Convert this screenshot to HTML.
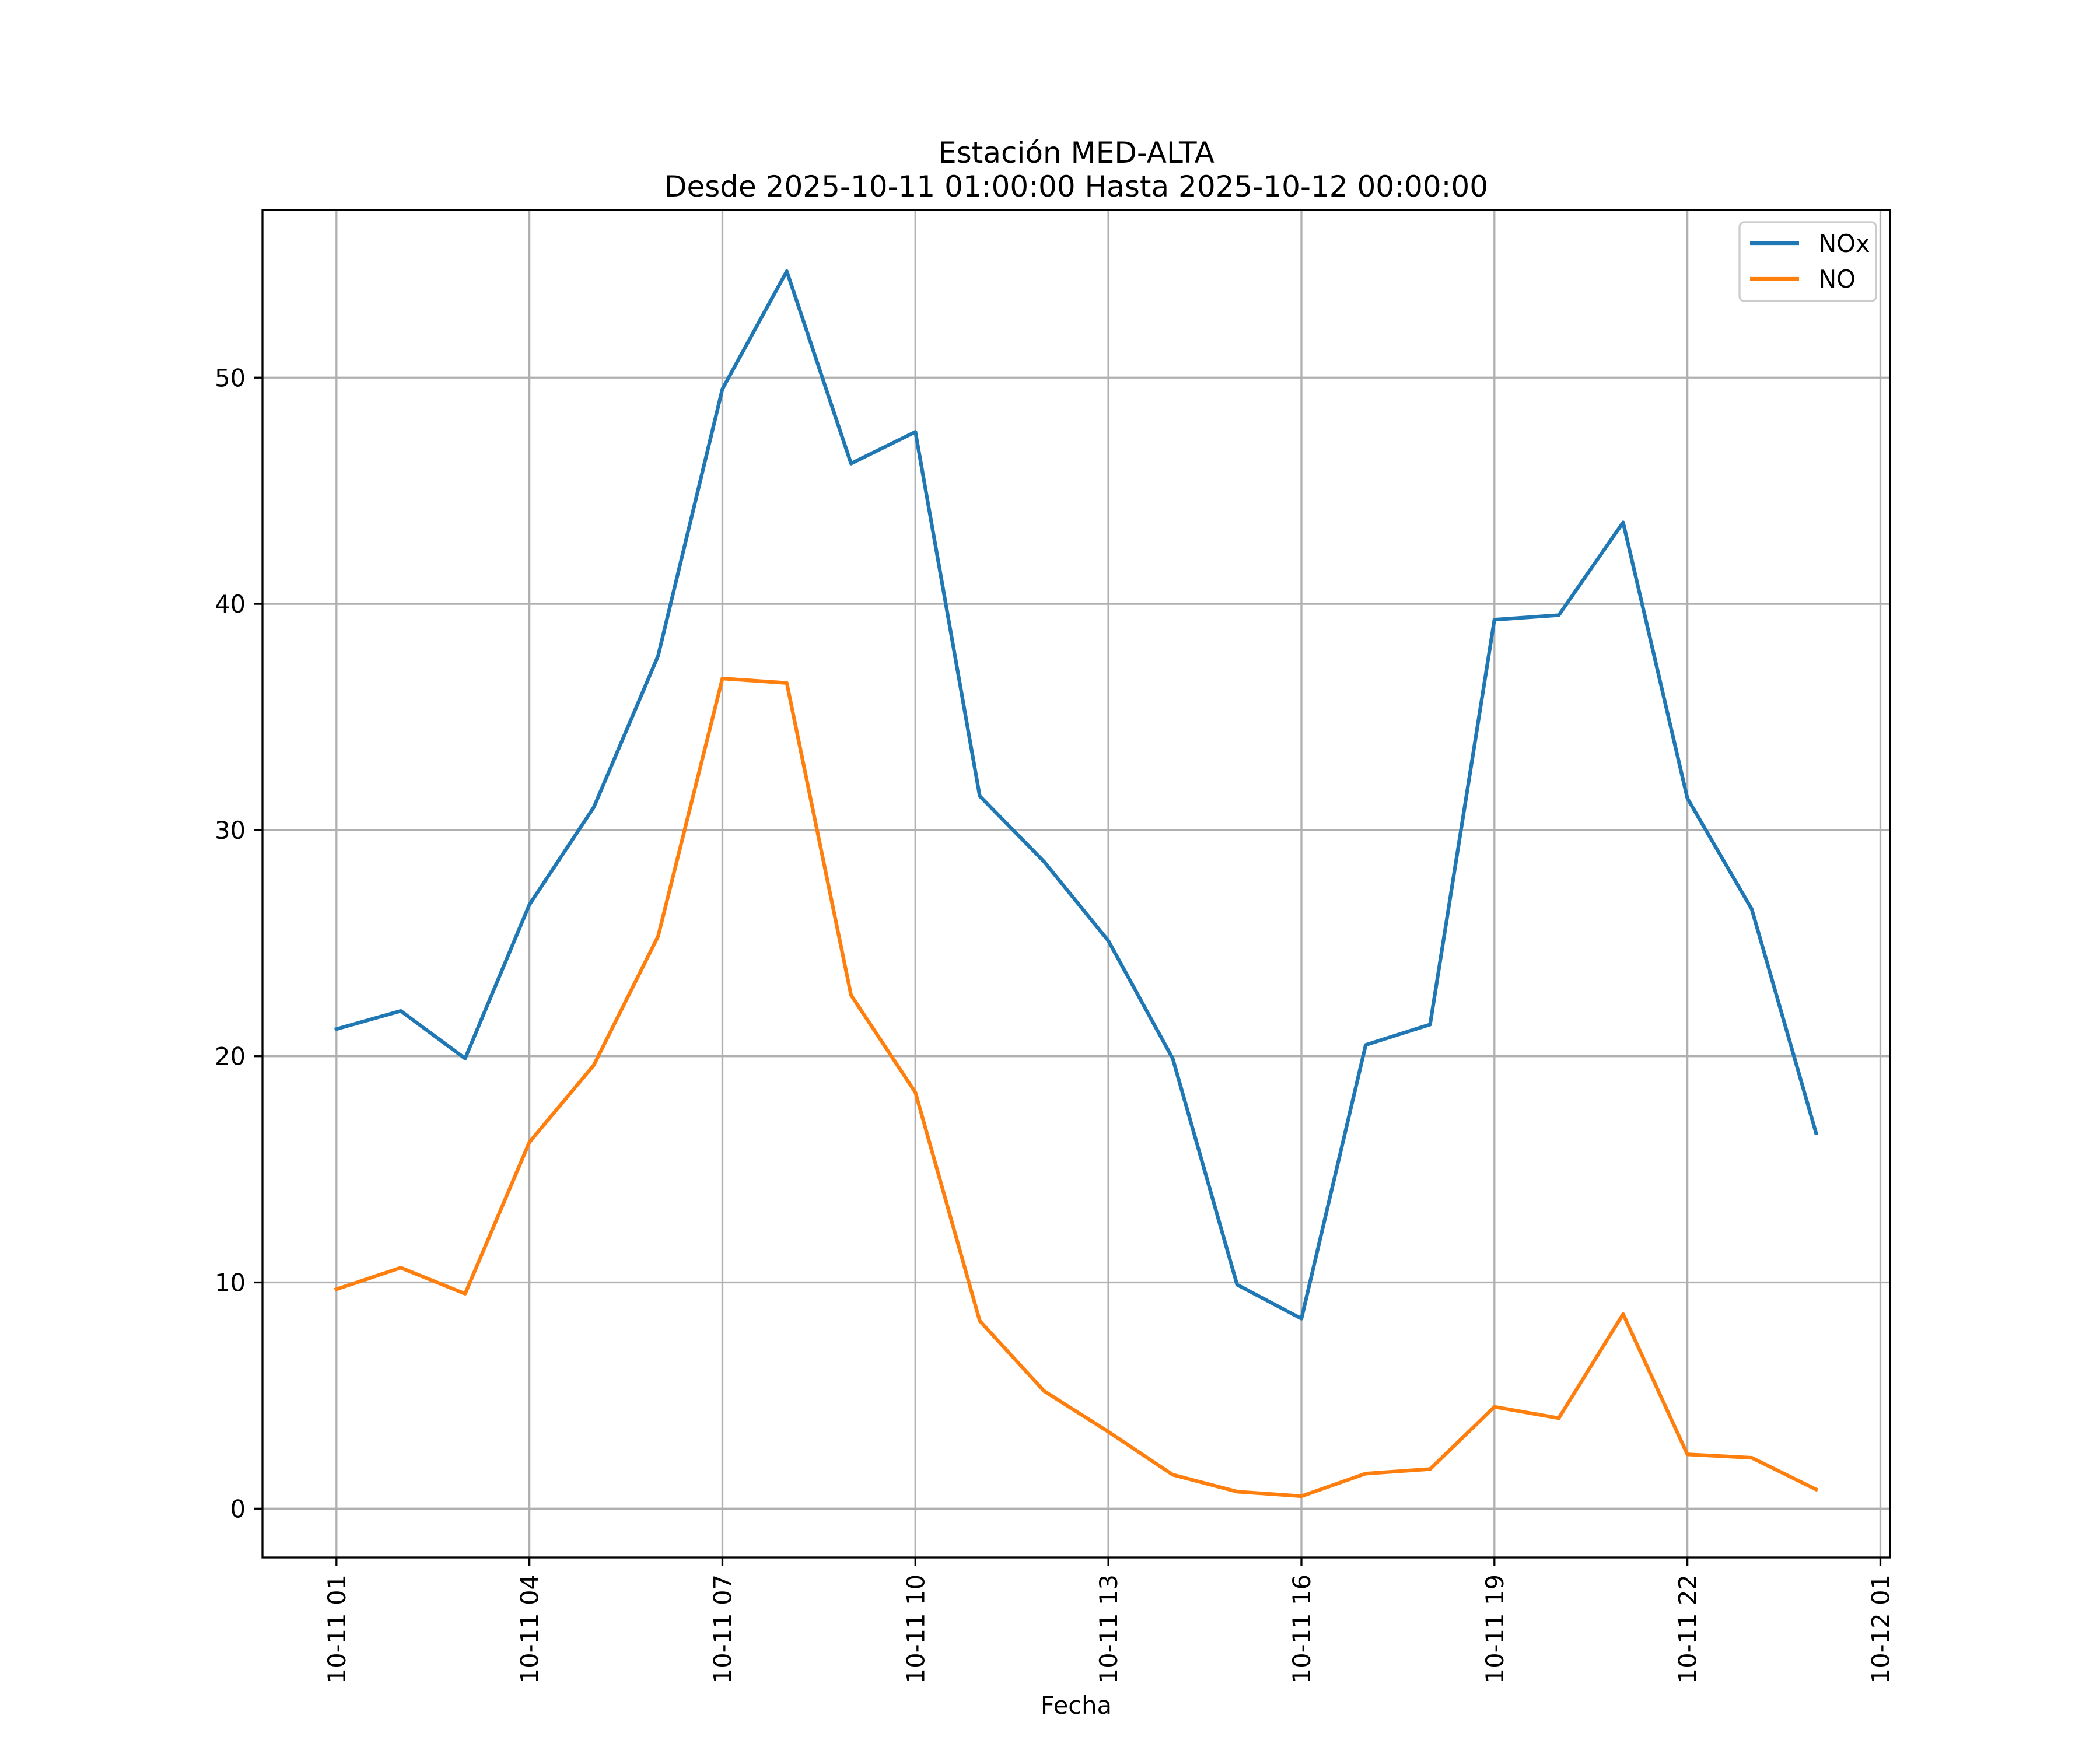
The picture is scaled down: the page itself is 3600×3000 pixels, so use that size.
<!DOCTYPE html>
<html><head><meta charset="utf-8"><style>
html,body{margin:0;padding:0;background:#fff;}
svg{display:block;font-family:"DejaVu Sans","Liberation Sans",sans-serif;}
</style></head><body>
<svg id="chart" width="3600" height="3000" viewBox="0 0 3600 3000" xmlns="http://www.w3.org/2000/svg">
<rect width="3600" height="3000" fill="#fff"/>
<text x="1845" y="279" font-size="50" text-anchor="middle">Estación MED-ALTA</text>
<text x="1845" y="337" font-size="50" text-anchor="middle">Desde 2025-10-11 01:00:00 Hasta 2025-10-12 00:00:00</text>
<g id="grid"></g>
<g id="series"></g>
<rect x="450" y="360" width="2790" height="2310" fill="none" stroke="#000" stroke-width="3.3"/>
<g id="axes"></g>
<text x="1845" y="2938" font-size="41.7" text-anchor="middle">Fecha</text>
<g>
<rect x="2982" y="381" width="234" height="135" rx="8" fill="#fff" fill-opacity="0.8" stroke="#ccc" stroke-width="3.3"/>
<line x1="3000" y1="417" x2="3084" y2="417" stroke="#1f77b4" stroke-width="6.25"/>
<text x="3117" y="432" font-size="41.7">NOx</text>
<line x1="3000" y1="478" x2="3084" y2="478" stroke="#ff7f0e" stroke-width="6.25"/>
<text x="3117" y="493" font-size="41.7">NO</text>
</g>
</svg>
<script>
const hours = [1,2,3,4,5,6,7,8,9,10,11,12,13,14,15,16,17,18,19,20,21,22,23,24];
const noxValues = [21.2,22.0,19.9,26.7,31.0,37.7,49.5,54.7,46.2,47.6,31.5,28.6,25.1,19.9,9.9,8.4,20.5,21.4,39.3,39.5,43.6,31.4,26.5,16.6];
const noValues = [9.7,10.65,9.5,16.2,19.6,25.3,36.7,36.5,22.7,18.4,8.3,5.2,3.4,1.5,0.75,0.55,1.55,1.75,4.5,4.0,8.6,2.4,2.25,0.85];
const yTicks = [0,10,20,30,40,50];
const xTickHours = [1,4,7,10,13,16,19,22,25];
const xTickLabels = ["10-11 01","10-11 04","10-11 07","10-11 10","10-11 13","10-11 16","10-11 19","10-11 22","10-12 01"];

const NS = "http://www.w3.org/2000/svg";
const L=450,R=3240,T=360,B=2670;
const all = noxValues.concat(noValues);
const yMinD=Math.min(...all), yMaxD=Math.max(...all), yPad=(yMaxD-yMinD)*0.05;
const y0=yMinD-yPad, y1=yMaxD+yPad;
const xMinD=Math.min(...hours), xMaxD=Math.max(...hours), xPad=(xMaxD-xMinD)*0.05;
const x0=xMinD-xPad, x1=xMaxD+xPad;
const xs = h => L+(h-x0)/(x1-x0)*(R-L);
const ys = v => B-(v-y0)/(y1-y0)*(B-T);
function mk(tag, attrs, parent){const e=document.createElementNS(NS,tag);for(const k in attrs)e.setAttribute(k,attrs[k]);parent.appendChild(e);return e;}
const grid=document.getElementById('grid'), axes=document.getElementById('axes'), series=document.getElementById('series');

yTicks.forEach(v=>{
  const y=ys(v);
  const g=mk('line',{x1:L,x2:R,y1:y,y2:y,stroke:'#b0b0b0','stroke-width':3.3},grid);
  
  
  const t=mk('line',{x1:L-14.6,x2:L,y1:y,y2:y,stroke:'#000','stroke-width':3.3},axes);
  
  
  const tx=mk('text',{x:L-29,y:y+15,'font-size':41.7,'text-anchor':'end'},axes);
  tx.textContent=String(v);
  
  
});
xTickHours.forEach((h,i)=>{
  const x=xs(h);
  const g=mk('line',{x1:x,x2:x,y1:T,y2:B,stroke:'#b0b0b0','stroke-width':3.3},grid);
  
  
  const t=mk('line',{x1:x,x2:x,y1:B,y2:B+14.6,stroke:'#000','stroke-width':3.3},axes);
  
  
  const tx=mk('text',{x:0,y:0,'font-size':41.7,'text-anchor':'end',transform:`translate(${x+15},${B+29}) rotate(-90)`},axes);
  tx.textContent=xTickLabels[i];
  
  
});
function drawLine(vals,color,name){
  const pts=vals.map((v,i)=>xs(hours[i]).toFixed(1)+','+ys(v).toFixed(1)).join(' ');
  const p=mk('polyline',{points:pts,fill:'none',stroke:color,'stroke-width':6.25,'stroke-linejoin':'round','stroke-linecap':'square'},series);
  
  
}
drawLine(noxValues,'#1f77b4','nox-line');
drawLine(noValues,'#ff7f0e','no-line');
</script>
</body></html>
